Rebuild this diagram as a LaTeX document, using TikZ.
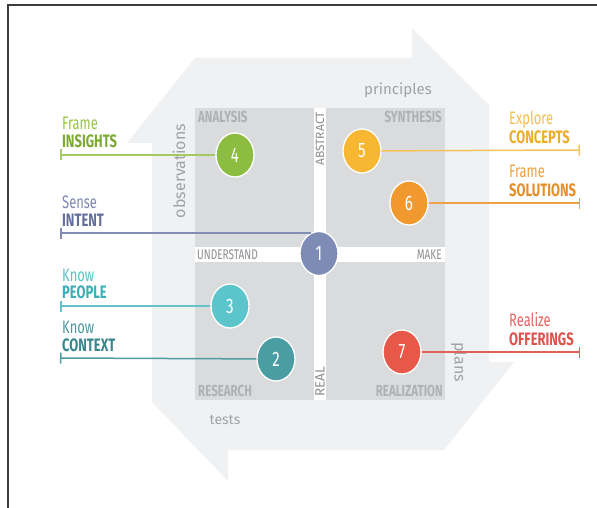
\documentclass[tikz,border=0pt]{standalone}
\usepackage{fontspec}
\setmainfont{Fira Sans}[FakeStretch=0.72]
\newfontfamily\plainfont{Fira Sans}
\usetikzlibrary{shapes.geometric,arrows.meta}
\definecolor{bgshape}{RGB}{240,241,242}
\definecolor{quad}{RGB}{218,219,221}
\definecolor{quadtxt}{RGB}{176,177,180}
\definecolor{striptxt}{RGB}{140,142,146}
\definecolor{sidetxt}{RGB}{160,162,166}
\definecolor{framecol}{RGB}{60,60,60}
\definecolor{cA}{RGB}{126,139,181}
\definecolor{cB}{RGB}{73,157,163}
\definecolor{cC}{RGB}{92,197,203}
\definecolor{cD}{RGB}{140,189,64}
\definecolor{cE}{RGB}{248,183,51}
\definecolor{cF}{RGB}{241,152,46}
\definecolor{cG}{RGB}{231,88,73}
\definecolor{tAa}{RGB}{125,135,178}\definecolor{tAb}{RGB}{100,110,155}
\definecolor{tBa}{RGB}{72,152,158}\definecolor{tBb}{RGB}{55,135,140}
\definecolor{tCa}{RGB}{92,192,198}\definecolor{tCb}{RGB}{60,175,182}
\definecolor{tDa}{RGB}{150,195,70}\definecolor{tDb}{RGB}{125,170,50}
\definecolor{tEa}{RGB}{245,190,80}\definecolor{tEb}{RGB}{238,172,45}
\definecolor{tFa}{RGB}{238,160,62}\definecolor{tFb}{RGB}{230,142,40}
\definecolor{tGa}{RGB}{226,100,95}\definecolor{tGb}{RGB}{218,84,78}
\definecolor{lA}{RGB}{130,140,180}
\definecolor{lB}{RGB}{80,155,160}
\definecolor{lC}{RGB}{100,195,200}
\definecolor{lD}{RGB}{165,200,100}
\definecolor{lE}{RGB}{245,195,90}
\definecolor{lF}{RGB}{236,162,72}
\definecolor{lG}{RGB}{226,96,90}
\begin{document}
\begin{tikzpicture}[x=1pt,y=-1pt,
  num/.style={ellipse, minimum width=38pt, minimum height=44pt, inner sep=0pt,
    draw=white, line width=1.3pt, text=white, font=\fontsize{21}{21}\selectfont},
  ln/.style={line width=1.5pt},
  tick/.style={-{Bar[width=11pt,line width=1.5pt]}},
  lab/.style={inner sep=0pt, anchor=base west, font=\fontsize{18}{18}\selectfont},
  labb/.style={lab, font=\fontsize{18}{18}\selectfont\bfseries},
  qlab/.style={inner sep=0pt, text=quadtxt, font=\fontsize{16}{16}\selectfont\bfseries},
  slab/.style={inner sep=0pt, text=striptxt, font=\fontsize{14}{14}\selectfont},
  vlab/.style={inner sep=0pt, text=striptxt, font=\plainfont\fontsize{12}{12}\selectfont},
  olab/.style={inner sep=0pt, text=sidetxt, font=\plainfont\fontsize{15}{15}\selectfont}
]
\useasboundingbox (0,0) rectangle (597,508);
% frame
\draw[framecol, line width=1.5pt] (597,5) -- (8,5) -- (8,508);
% background pinwheel arrows
\fill[bgshape] (195,58) -- (412,58) -- (412,28) -- (489,105) -- (489,362)
  -- (514,362) -- (444,450) -- (228,450) -- (228,481) -- (152,402)
  -- (152,143) -- (127,143) -- cycle;
% quadrants
\fill[white] (195,108) rectangle (445,400);
\fill[quad] (195,108) rectangle (314,247);
\fill[quad] (326,108) rectangle (445,247);
\fill[quad] (195,262) rectangle (314,400);
\fill[quad] (326,262) rectangle (445,400);
% quadrant labels
\node[qlab, anchor=north west] (qa) at (198,111) {ANALYSIS};
\node[qlab, anchor=north east] (qs) at (442,111) {SYNTHESIS};
\node[qlab, anchor=south west] (qr) at (198,397) {RESEARCH};
\node[qlab, anchor=south east] (qz) at (443,397) {REALIZATION};
\node[slab, anchor=west] (su) at (197,254.5) {UNDERSTAND};
\node[slab, anchor=east] (sm) at (442,254.5) {MAKE};
\node[vlab, rotate=90, anchor=east] (sa) at (320,112) {ABSTRACT};
\node[vlab, rotate=90, anchor=west, font=\plainfont\fontsize{13.5}{13.5}\selectfont] (sr) at (320,397) {REAL};
% side words
\node[olab, rotate=90, font=\plainfont\fontsize{16}{16}\selectfont] (ob) at (179,171) {observations};
\node[olab] (pr) at (398,90) {principles};
\node[olab, font=\plainfont\fontsize{14}{14}\selectfont] (te) at (225,420) {tests};
\node[olab, rotate=-90, font=\plainfont\fontsize{16}{16}\selectfont] (pl) at (459,362) {plans};
% circles
\node[num, fill=cA] (c1) at (319,253.5) {1};
\node[num, fill=cB] (c2) at (276,359) {2};
\node[num, fill=cC] (c3) at (230,306) {3};
\node[num, fill=cD] (c4) at (235,155) {4};
\node[num, fill=cE] (c5) at (362,151) {5};
\node[num, fill=cF] (c6) at (409,203) {6};
\node[num, fill=cG] (c7) at (402,352) {7};
% free ends
\coordinate (e1) at (60,233);
\coordinate (e2) at (60,358);
\coordinate (e3) at (60,306);
\coordinate (e4) at (60,155);
\coordinate (e5) at (580,150);
\coordinate (e6) at (580,203);
\coordinate (e7) at (580,352);
% connectors
\draw[ln, lA, tick] (e1 -| c1.110) -- (e1);
\draw[ln, lB, tick] (c2) -- (e2);
\draw[ln, lC, tick] (c3) -- (e3);
\draw[ln, lD, tick] (c4) -- (e4);
\draw[ln, lE, tick] (c5) -- (e5);
\draw[ln, lF, tick] (c6) -- (e6);
\draw[ln, lG, tick] (c7) -- (e7);
% left labels
\node[lab, text=tDa] (l4a) at (62,130) {Frame};
\node[labb, text=tDb] (l4b) at (62,148) {INSIGHTS};
\node[lab, text=tAa] (l1a) at (62,208) {Sense};
\node[labb, text=tAb] (l1b) at (62,226) {INTENT};
\node[lab, text=tCa] (l3a) at (62,281) {Know};
\node[labb, text=tCb] (l3b) at (62,298) {PEOPLE};
\node[lab, text=tBa] (l2a) at (62,333) {Know};
\node[labb, text=tBb] (l2b) at (62,351) {CONTEXT};
% right labels
\node[lab, text=tEa] (l5a) at (509,125) {Explore};
\node[labb, text=tEb] (l5b) at (509,143) {CONCEPTS};
\node[lab, text=tFa] (l6a) at (509,178) {Frame};
\node[labb, text=tFb] (l6b) at (509,196) {SOLUTIONS};
\node[lab, text=tGa] (l7a) at (509,326) {Realize};
\node[labb, text=tGb] (l7b) at (509,345) {OFFERINGS};
\end{tikzpicture}
\end{document}
